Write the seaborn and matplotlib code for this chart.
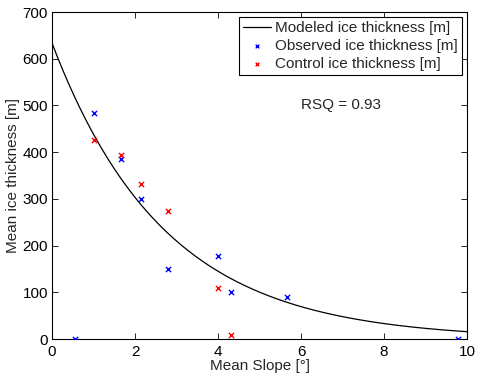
import numpy as np
import pandas as pd
import matplotlib
matplotlib.use("Agg")
import matplotlib.pyplot as plt
import seaborn as sns

# Observed and control mean ice thickness against mean slope
obs_slope = [0.55, 1.0, 1.65, 2.15, 2.8, 4.0, 4.3, 5.65, 9.78]
obs_thick = [0, 484, 385, 299, 150, 178, 101, 91, 0]
ctl_slope = [1.0, 1.65, 2.15, 2.8, 4.0, 4.3]
ctl_thick = [427, 395, 333, 275, 110, 8]

# Exponential model: thickness = a * exp(-b * slope)
model_a = 633.0
model_b = 0.368
rsq = 0.93

sns.set_theme(style="ticks")
plt.rcParams["font.family"] = ["Liberation Sans", "DejaVu Sans"]
plt.rcParams["xtick.direction"] = "in"
plt.rcParams["ytick.direction"] = "in"

FS = 11

fig = plt.figure(figsize=(4.78, 3.76), dpi=100)
ax = fig.add_axes([0.109, 0.098, 0.868, 0.870])

xs = np.linspace(0, 10, 300)
model_df = pd.DataFrame({"slope": xs, "thick": model_a * np.exp(-model_b * xs)})
sns.lineplot(data=model_df, x="slope", y="thick", ax=ax, color="black", lw=0.9,
             label="Modeled ice thickness [m]")
sns.scatterplot(x=obs_slope, y=obs_thick, ax=ax, marker="x", color="#0000ff", s=14,
                linewidth=1.0, label="Observed ice thickness [m]", zorder=3)
sns.scatterplot(x=ctl_slope, y=ctl_thick, ax=ax, marker="x", color="#ff0000", s=14,
                linewidth=1.0, label="Control ice thickness [m]", zorder=3)

ax.set_xlim(0, 10)
ax.set_ylim(0, 700)
ax.set_xticks(range(0, 11, 2))
ax.set_yticks(range(0, 701, 100))
ax.tick_params(axis="both", labelsize=FS, length=4, width=0.6, colors="black",
               top=True, right=True)
ax.tick_params(axis="x", pad=4.5)
ax.tick_params(axis="y", pad=3)
for sp in ax.spines.values():
    sp.set_visible(True)
    sp.set_linewidth(0.8)
    sp.set_color("black")

ax.set_xlabel("Mean Slope [°]", fontsize=FS, labelpad=0)
ax.set_ylabel("Mean ice thickness [m]", fontsize=FS, labelpad=2)

ax.text(6.0, 500, f"RSQ = {rsq}", fontsize=FS, ha="left", va="center")

leg = ax.legend(loc="upper right", fontsize=FS, frameon=True, fancybox=False,
                handlelength=1.8, handletextpad=0.3, borderpad=0.25,
                labelspacing=0.25, borderaxespad=0.35, markerscale=0.7)
leg.get_frame().set_edgecolor("black")
leg.get_frame().set_linewidth(0.8)
leg.get_frame().set_alpha(1)

fig.savefig("out.png", dpi=100)
